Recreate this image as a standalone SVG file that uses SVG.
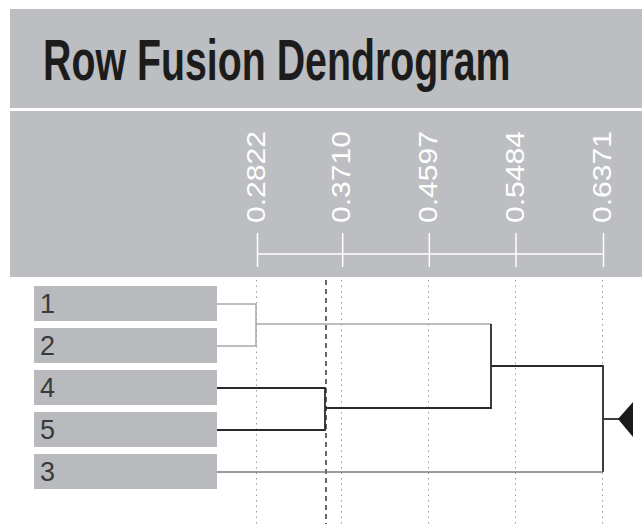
<svg xmlns="http://www.w3.org/2000/svg" width="642" height="524" viewBox="0 0 642 524">
<style>
.band{fill:#bdbec1}
.box{fill:#b9babd}
.title{font-family:"Liberation Sans",Arial,sans-serif;font-weight:bold;font-size:57px;fill:#1c1c1c}
.scl{font-family:"Liberation Sans",Arial,sans-serif;font-size:25px;fill:#ffffff}
.lbl{font-family:"Liberation Sans",Arial,sans-serif;font-size:27px;fill:#3a3a3a}
.axis{stroke:#ffffff;stroke-width:1.5;fill:none}
.grid{stroke:#9a9a9a;stroke-width:1;stroke-dasharray:1.5 4;fill:none}
.cut{stroke:#333333;stroke-width:1.5;stroke-dasharray:5 4;fill:none}
.lt{stroke:#a8a8a8;stroke-width:1.5;fill:none}
.md{stroke:#7a7a7a;stroke-width:1.5;fill:none}
.dk{stroke:#2a2a2a;stroke-width:1.8;fill:none}
</style>
<rect width="642" height="524" fill="#ffffff"/>
<g id="title">
<rect class="band" x="10" y="9" width="632" height="99"/>
<text class="title" transform="translate(43,80) scale(0.69,1)">Row Fusion Dendrogram</text>
</g>
<g id="scale">
<rect class="band" x="10" y="111" width="632" height="166"/>
<path class="axis" d="M257.5 254H604M257.5 233V267M342.7 233V267M429.3 233V267M516 233V267M603.5 233V267"/>
<text class="scl" transform="translate(265,223) rotate(-90)" textLength="92" lengthAdjust="spacingAndGlyphs">0.2822</text>
<text class="scl" transform="translate(350,223) rotate(-90)" textLength="92" lengthAdjust="spacingAndGlyphs">0.3710</text>
<text class="scl" transform="translate(437,223) rotate(-90)" textLength="92" lengthAdjust="spacingAndGlyphs">0.4597</text>
<text class="scl" transform="translate(524,223) rotate(-90)" textLength="92" lengthAdjust="spacingAndGlyphs">0.5484</text>
<text class="scl" transform="translate(611,223) rotate(-90)" textLength="92" lengthAdjust="spacingAndGlyphs">0.6371</text>
</g>
<g id="gridlines">
<path class="grid" d="M256.5 280V524M341.5 280V524M428.5 280V524M515.5 280V524M602.5 280V524"/>
<path class="cut" d="M326 280V524"/>
</g>
<g id="row1"><rect class="box" x="34" y="286" width="183" height="35"/><text class="lbl" x="40" y="313">1</text></g>
<g id="row2"><rect class="box" x="34" y="328" width="183" height="35"/><text class="lbl" x="40" y="355">2</text></g>
<g id="row4"><rect class="box" x="34" y="370" width="183" height="35"/><text class="lbl" x="40" y="397">4</text></g>
<g id="row5"><rect class="box" x="34" y="412" width="183" height="35"/><text class="lbl" x="40" y="439">5</text></g>
<g id="row3"><rect class="box" x="34" y="454" width="183" height="35"/><text class="lbl" x="40" y="481">3</text></g>
<g id="connectors">
<path class="lt" d="M217 304H256V346H217M256 324H491"/>
<path class="dk" d="M217 388H325V430H217M325 408H491V324M491 366H603V472"/>
<path class="md" d="M217 472H603"/>
<path class="dk" d="M603 419H619"/>
<polygon points="618,419 633,402 633,437" fill="#1a1a1a"/>
</g>
</svg>
